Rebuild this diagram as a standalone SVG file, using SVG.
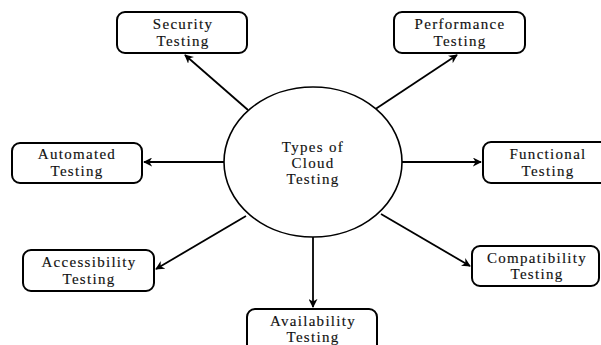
<svg xmlns="http://www.w3.org/2000/svg" width="601" height="345" viewBox="0 0 601 345">
<defs>
<style>
.box{fill:#fff;stroke:#000;stroke-width:2}
.hub{fill:#fff;stroke:#000;stroke-width:1.6}
.lbl{font-family:"Liberation Serif","Times New Roman",serif;font-size:15px;letter-spacing:1.3px;fill:#111;stroke:#111;stroke-width:0.15;text-anchor:middle}
.edge{stroke:#000;stroke-width:1.8;fill:none;marker-end:url(#ah)}
</style>
<marker id="ah" viewBox="0 0 10 10" refX="9" refY="5" markerWidth="5" markerHeight="5" markerUnits="strokeWidth" orient="auto">
<path d="M0,0 L10,5 L0,10 L3,5 z" fill="#000"/>
</marker>
</defs>
<rect width="601" height="345" fill="#fff"/>
<g id="connectors">
<line class="edge" x1="248" y1="110" x2="185" y2="55"/>
<line class="edge" x1="374" y1="110" x2="457" y2="55"/>
<line class="edge" x1="224" y1="162" x2="144" y2="162"/>
<line class="edge" x1="402" y1="162" x2="481" y2="162"/>
<line class="edge" x1="246" y1="216" x2="156" y2="269"/>
<line class="edge" x1="381" y1="214" x2="470" y2="266"/>
<line class="edge" x1="313" y1="237" x2="313" y2="307"/>
</g>
<g id="hub">
<ellipse class="hub" cx="313" cy="162" rx="89" ry="75"/>
<text class="lbl" x="313" y="152">Types of</text>
<text class="lbl" x="313" y="168">Cloud</text>
<text class="lbl" x="313" y="184">Testing</text>
</g>
<g id="security">
<rect class="box" x="117" y="12" width="130" height="41" rx="8"/>
<text class="lbl" x="183" y="29">Security</text>
<text class="lbl" x="183" y="46">Testing</text>
</g>
<g id="performance">
<rect class="box" x="394" y="12" width="131" height="41" rx="8"/>
<text class="lbl" x="460" y="29">Performance</text>
<text class="lbl" x="460" y="46">Testing</text>
</g>
<g id="automated">
<rect class="box" x="12" y="143" width="130" height="40" rx="8"/>
<text class="lbl" x="77" y="159">Automated</text>
<text class="lbl" x="77" y="176">Testing</text>
</g>
<g id="functional">
<rect class="box" x="483" y="142" width="130" height="41" rx="8"/>
<text class="lbl" x="548" y="159">Functional</text>
<text class="lbl" x="548" y="176">Testing</text>
</g>
<g id="accessibility">
<rect class="box" x="23" y="250" width="131" height="41" rx="8"/>
<text class="lbl" x="89" y="267">Accessibility</text>
<text class="lbl" x="89" y="284">Testing</text>
</g>
<g id="compatibility">
<rect class="box" x="472" y="246" width="127" height="40" rx="8"/>
<text class="lbl" x="537" y="263">Compatibility</text>
<text class="lbl" x="537" y="279">Testing</text>
</g>
<g id="availability">
<rect class="box" x="247" y="309" width="130" height="45" rx="8"/>
<text class="lbl" x="313" y="326">Availability</text>
<text class="lbl" x="313" y="342">Testing</text>
</g>
</svg>
